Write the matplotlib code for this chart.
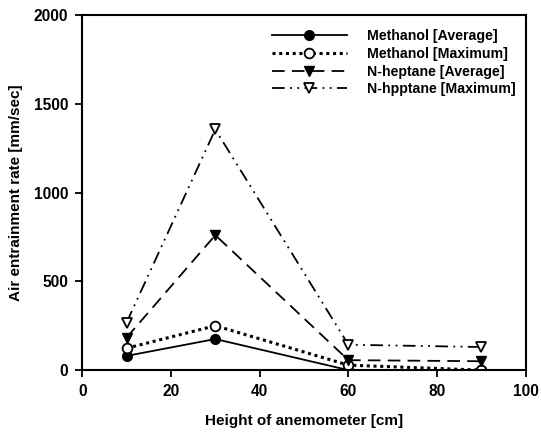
import numpy as np
import matplotlib
matplotlib.use("Agg")
import matplotlib.pyplot as plt

plt.rcParams['font.family'] = ['Liberation Sans', 'DejaVu Sans']

# data
height = [10, 30, 60, 90]
methanol_avg = [80, 175, 0, 0]
methanol_max = [123, 250, 28, 0]
heptane_avg = [183, 760, 56, 50]
heptane_max = [268, 1355, 143, 130]

fig = plt.figure(figsize=(5.41, 4.38), dpi=100)
ax = fig.add_axes([0.152, 0.155, 0.820, 0.811])

ax.plot(height, methanol_avg, color="black", lw=1.3, marker="o", ms=7,
        mfc="black", mec="black", label="Methanol [Average]")
ax.plot(height, methanol_max, color="black", lw=2.2, ls=(0, (1, 1.2)), marker="o", ms=7,
        mfc="white", mec="black", mew=1.3, label="Methanol [Maximum]")
ax.plot(height, heptane_avg, color="black", lw=1.3, ls=(0, (7, 4)), marker="v", ms=7,
        mfc="black", mec="black", label="N-heptane [Average]")
ax.plot(height, heptane_max, color="black", lw=1.3, ls=(0, (7, 3, 1, 3, 1, 3)), marker="v", ms=7,
        mfc="white", mec="black", mew=1.3, label="N-hpptane [Maximum]")

ax.set_xlim(0, 100)
ax.set_ylim(0, 2000)
ax.set_xticks([0, 20, 40, 60, 80, 100])
ax.set_yticks([0, 500, 1000, 1500, 2000])
ax.tick_params(direction="out", length=5, width=1.3, labelsize=11.2, pad=5)
for s in ax.spines.values():
    s.set_linewidth(1.5)

ax.set_xlabel("Height of anemometer [cm]", fontsize=11, fontweight="bold", labelpad=11)
ax.set_ylabel("Air entrainment rate [mm/sec]", fontsize=11, fontweight="bold", labelpad=8)
for lab in ax.get_xticklabels() + ax.get_yticklabels():
    lab.set_fontweight("bold")

leg = ax.legend(loc="upper right", bbox_to_anchor=(1.005, 0.995), frameon=False,
                handlelength=5.3, handletextpad=1.4, labelspacing=0.25,
                prop={"size": 10.2, "weight": "bold"})

fig.savefig("out.png", dpi=100)
